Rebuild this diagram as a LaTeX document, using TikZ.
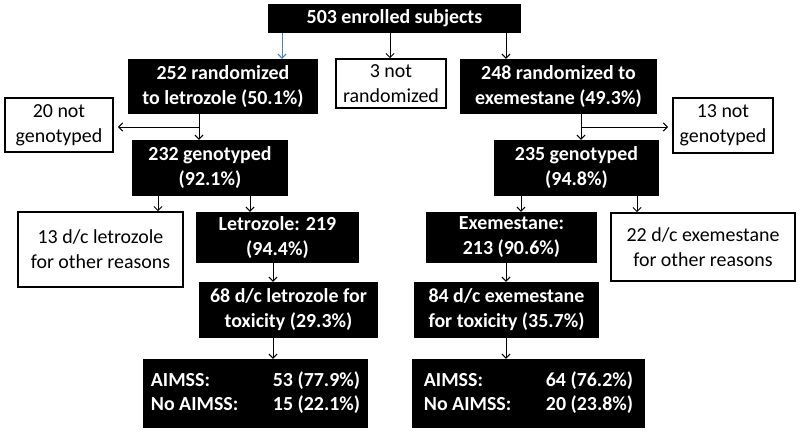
\documentclass[tikz,border=0pt]{standalone}
\usepackage{fontspec}
\setmainfont{Carlito}
\usetikzlibrary{arrows.meta}
\definecolor{arrowblue}{RGB}{79,129,189}
\tikzset{sz/.style 2 args={minimum width=#1*0.03cm, minimum height=#2*0.03cm}}

\begin{document}
\begin{tikzpicture}[x=0.03cm, y=-0.03cm, >={Straight Barb[length=3.5pt,width=7pt]},
  every node/.style={font=\fontsize{17}{21.3}\selectfont},
  dark/.style={fill=black, text=white, align=center, inner sep=0pt,
               font=\fontsize{17}{21.3}\selectfont\bfseries},
  light/.style={draw=black, line width=1.5pt, fill=white, align=center, inner sep=0pt},
  link/.style={->, line width=0.8pt}]
  \useasboundingbox (0,0) rectangle (800,433);
  % Enrolment and randomization
  \node[dark, sz={253}{29}]  (enr) at (394.5, 18.5) {503 enrolled subjects};
  \node[dark, sz={190}{55}]  (rl)  at (223, 86.5)   {252 randomized\\to letrozole (50.1\%)};
  \node[light, sz={110}{49}] (nr)  at (391, 83.5)   {3 not\\randomized};
  \node[dark, sz={197}{55}]  (re)  at (558.5, 86.5) {248 randomized to\\exemestane (49.3\%)};
  % Genotyping
  \node[light, sz={108}{54}] (ngl) at (59, 125)     {20 not\\genotyped};
  \node[dark, sz={156}{56}]  (gl)  at (210, 168)    {232 genotyped\\(92.1\%)};
  \node[light, sz={100}{55}] (nge) at (723, 125.5)  {13 not\\genotyped};
  \node[dark, sz={165}{56}]  (ge)  at (576.5, 168)  {235 genotyped\\(94.8\%)};
  % Treatment
  \node[light, sz={165}{75}] (dcl) at (100.5, 249.5) {13 d/c letrozole\\for other reasons};
  \node[dark, sz={163}{51}]  (lt)  at (277.5, 237.5) {Letrozole: 219\\(94.4\%)};
  \node[dark, sz={171}{51}]  (ex)  at (511.5, 237.5) {Exemestane:\\213 (90.6\%)};
  \node[light, sz={184}{68}] (dce) at (703, 247)     {22 d/c exemestane\\for other reasons};
  \node[dark, sz={179}{56}]  (tl)  at (288.5, 310)   {68 d/c letrozole for\\toxicity (29.3\%)};
  \node[dark, sz={185}{56}]  (te)  at (506.5, 310)   {84 d/c exemestane\\for toxicity (35.7\%)};
  % Outcome
  \node[dark, sz={225}{69}]  (al)  at (255.5, 393.5)
    {\begin{tabular}{@{}p{3.66cm}@{}l@{}}AIMSS: & 53 (77.9\%)\\No AIMSS: & 15 (22.1\%)\end{tabular}};
  \node[dark, sz={233}{69}]  (ae)  at (528.5, 393.5)
    {\begin{tabular}{@{}p{3.66cm}@{}l@{}}AIMSS: & 64 (76.2\%)\\No AIMSS: & 20 (23.8\%)\end{tabular}};
  % Arrows
  \draw[link, arrowblue] (enr.south -| 282,0) -- (rl.north -| 282,0);
  \draw[link] (enr.south -| 390,0) -- (nr.north -| 390,0);
  \draw[link] (enr.south -| 506,0) -- (re.north -| 506,0);
  \coordinate (jl) at (199,127);
  \coordinate (jr) at (581,127);
  \draw[link] (rl.south -| jl) -- (gl.north -| jl);
  \draw[link, shorten >=3.5pt] (jl) -- (jl -| ngl.east);
  \draw[link] (re.south -| jr) -- (ge.north -| jr);
  \draw[link, shorten >=3.5pt] (jr) -- (jr -| nge.west);
  \draw[link] (gl.south -| 158,0) -- (dcl.north -| 158,0);
  \draw[link] (gl.south -| 250,0) -- (lt.north -| 250,0);
  \draw[link] (ge.south -| 521,0) -- (ex.north -| 521,0);
  \draw[link] (ge.south -| 637,0) -- (dce.north -| 637,0);
  \draw[link] (lt.south -| 273,0) -- (tl.north -| 273,0);
  \draw[link] (tl.south -| 273,0) -- (al.north -| 273,0);
  \draw[link] (ex.south -| 506,0) -- (te.north -| 506,0);
  \draw[link] (te.south -| 506,0) -- (ae.north -| 506,0);
\end{tikzpicture}
\end{document}
